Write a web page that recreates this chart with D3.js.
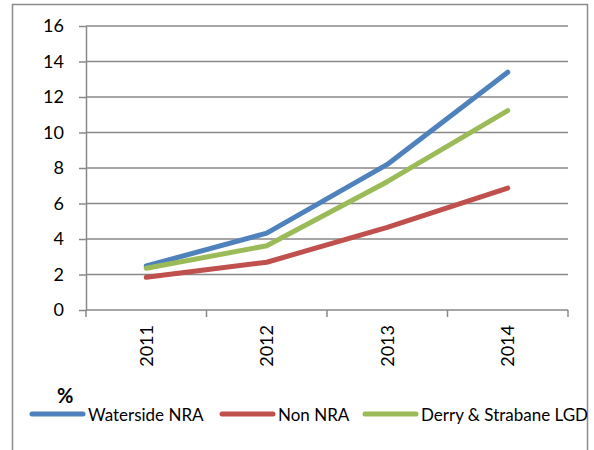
<!DOCTYPE html>
<html>
<head>
<meta charset="utf-8">
<script src="https://cdn.jsdelivr.net/npm/d3@7"></script>
<style>
  body { margin: 0; background: #fff; }
  text { font-family: Lato, "Open Sans", sans-serif; fill: #000; }
</style>
</head>
<body>
<div id="chart"></div>
<script>
var years = ["2011", "2012", "2013", "2014"];
var watersideNRA = [2.48, 4.33, 8.2, 13.4];
var nonNRA = [1.84, 2.69, 4.66, 6.87];
var derryStrabane = [2.35, 3.62, 7.23, 11.23];
var yTicks = [0, 2, 4, 6, 8, 10, 12, 14, 16];

var series = [
    {name: "Waterside NRA", values: watersideNRA, color: "#4F81BD"},
    {name: "Non NRA", values: nonNRA, color: "#C0504D"},
    {name: "Derry & Strabane LGD", values: derryStrabane, color: "#9BBB59"}
];

var width = 594, height = 450;
var margin = {top: 26, right: 26, bottom: 140, left: 86};

var svg = d3.select("#chart").append("svg")
    .attr("width", width)
    .attr("height", height);

// outer chart border
svg.append("rect")
    .attr("x", 12.5).attr("y", 4.5)
    .attr("width", 575).attr("height", 460)
    .attr("fill", "none")
    .attr("stroke", "#8c8c8c")
    .attr("stroke-width", 1.5);

var x = d3.scaleBand()
    .domain(years)
    .range([margin.left, width - margin.right]);

var y = d3.scaleLinear()
    .domain([0, 16])
    .range([height - margin.bottom, margin.top]);

var gridColor = "#888";

// gridlines
svg.append("g").selectAll("line")
    .data(yTicks.slice(1))
    .enter().append("line")
    .attr("x1", margin.left).attr("x2", width - margin.right)
    .attr("y1", function(d) { return y(d); })
    .attr("y2", function(d) { return y(d); })
    .attr("stroke", gridColor)
    .attr("stroke-width", 1.5);

// y axis
var yAxis = svg.append("g")
    .attr("transform", "translate(" + margin.left + ",0)")
    .call(d3.axisLeft(y).tickValues(yTicks).tickSize(7).tickPadding(15).tickSizeOuter(0));
yAxis.select(".domain").attr("stroke", gridColor).attr("stroke-width", 1.5);
yAxis.selectAll(".tick line").attr("stroke", gridColor).attr("stroke-width", 1.5);
yAxis.selectAll("text").style("font-size", "18px").style("font-family", "Lato, sans-serif");

// x axis with ticks at category boundaries
var xAxisG = svg.append("g")
    .attr("transform", "translate(0," + y(0) + ")");
xAxisG.append("line")
    .attr("x1", margin.left).attr("x2", width - margin.right)
    .attr("stroke", gridColor).attr("stroke-width", 1.5);
var bounds = years.map(function(d) { return x(d); }).concat([x(years[years.length - 1]) + x.bandwidth()]);
xAxisG.selectAll(".xt")
    .data(bounds)
    .enter().append("line")
    .attr("class", "xt")
    .attr("x1", function(d) { return d; }).attr("x2", function(d) { return d; })
    .attr("y1", 0).attr("y2", 7)
    .attr("stroke", gridColor).attr("stroke-width", 1.5);
xAxisG.selectAll("text")
    .data(years)
    .enter().append("text")
    .attr("transform", function(d) {
        return "translate(" + (x(d) + x.bandwidth() / 2 + 6.5) + ",15) rotate(-90)";
    })
    .attr("text-anchor", "end")
    .style("font-size", "18px")
    .text(function(d) { return d; });

// lines
var line = d3.line()
    .x(function(d, i) { return x(years[i]) + x.bandwidth() / 2; })
    .y(function(d) { return y(d); });

svg.append("g").selectAll("path")
    .data(series)
    .enter().append("path")
    .attr("d", function(d) { return line(d.values); })
    .attr("fill", "none")
    .attr("stroke", function(d) { return d.color; })
    .attr("stroke-width", 5)
    .attr("stroke-linecap", "round")
    .attr("stroke-linejoin", "round");

// legend
svg.append("text")
    .attr("x", 57).attr("y", 403)
    .style("font-size", "20px")
    .style("font-weight", "bold")
    .text("%");

var legendX = [32, 222, 365];
var legend = svg.append("g").selectAll("g")
    .data(series)
    .enter().append("g")
    .attr("transform", function(d, i) { return "translate(" + legendX[i] + ",414)"; });
legend.append("line")
    .attr("x1", 0).attr("x2", 51)
    .attr("stroke", function(d) { return d.color; })
    .attr("stroke-width", 5)
    .attr("stroke-linecap", "round");
legend.append("text")
    .attr("x", 56).attr("y", 6.5)
    .style("font-size", "17px")
    .text(function(d) { return d.name; });
</script>
</body>
</html>
